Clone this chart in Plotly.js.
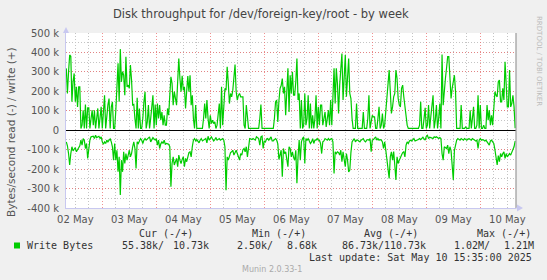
<!DOCTYPE html>
<html><head><meta charset="utf-8">
<script src="https://cdn.plot.ly/plotly-3.0.1.min.js"></script>
<style>html,body{margin:0;padding:0;background:#F0F0F0;} #chart{width:547px;height:280px;}</style>
</head><body><div id="chart"></div>
<script>
// ---- data ----
const startTime = '2025-05-02T08:00:00Z';
const stepMinutes = 30;
// write bytes/s (k), positive side
const writeK = [
318,189,300,387,380,146,250,292,146,223,
120,223,223,9,26,103,9,132,9,115,
115,9,60,103,26,103,9,60,112,9,
60,120,9,112,180,9,94,130,163,9,
120,146,9,9,100,215,344,146,417,249,
301,283,180,378,223,232,215,335,258,129,
132,60,9,167,9,112,9,9,60,146,
198,9,43,129,9,60,120,180,9,132,
26,137,60,129,52,94,26,77,26,26,
112,77,180,275,241,129,198,172,129,250,
369,266,198,280,206,223,112,200,279,198,
283,129,180,60,9,129,9,9,9,9,
9,9,60,137,60,155,60,9,77,34,
52,34,43,9,26,100,137,9,223,26,
150,215,206,326,241,137,189,172,206,260,
338,198,155,180,189,172,172,172,26,9,
129,60,9,9,9,9,9,9,9,9,
9,9,60,132,9,9,9,9,9,9,
9,9,9,9,9,60,146,155,43,150,
215,230,266,189,223,77,198,318,94,283,
189,301,180,180,250,369,155,189,9,155,
9,26,189,26,60,180,9,137,9,77,
9,60,180,9,120,26,129,129,26,60,
94,17,50,103,26,155,26,180,318,137,
318,241,86,232,320,395,155,318,387,172,
266,369,189,163,60,9,9,9,137,9,
9,9,9,9,94,9,9,9,60,180,
9,40,77,69,69,9,9,60,120,9,
26,86,9,26,100,172,232,309,198,86,
120,172,189,309,266,163,130,120,215,232,
172,129,60,26,9,9,9,9,9,9,
9,9,9,9,26,146,9,9,60,115,
9,26,129,9,69,120,180,9,52,129,
9,60,137,9,390,129,232,266,320,378,
378,283,163,215,250,283,198,9,9,9,
9,129,9,9,9,17,9,9,9,103,
9,60,120,9,9,26,180,9,129,9,
9,26,9,9,129,52,103,26,77,26,
100,198,180,172,249,258,146,146,215,155,
352,198,120,120,309,120,137,180,120,10.73
];
// read bytes/s (k), drawn on negative side
const readK = [
60,80,120,179,120,85,106,94,89,111,
99,94,80,51,77,43,51,94,68,145,
94,50,34,34,31,43,26,38,35,31,
43,34,60,72,60,68,51,60,51,45,
60,85,154,68,154,103,214,137,333,154,
214,111,171,120,154,120,103,137,120,85,
60,94,197,60,68,55,43,51,68,51,
43,51,45,43,34,60,43,38,45,51,
43,77,51,94,70,60,68,51,72,68,
70,72,85,291,171,137,179,160,145,188,
128,154,171,150,137,188,145,162,128,115,
111,137,85,51,43,55,48,55,65,51,
43,55,50,45,43,65,31,51,40,34,
45,55,48,38,51,45,43,51,48,43,
51,85,308,137,154,130,115,111,103,128,
110,103,120,137,154,120,128,100,94,111,
85,137,77,43,45,48,43,48,51,34,
40,43,77,34,30,94,55,60,45,43,
51,43,34,55,55,48,43,51,70,150,
120,103,239,94,120,111,150,188,85,94,
137,111,140,154,103,273,137,51,154,60,
43,34,171,43,51,43,55,68,60,43,
68,51,51,43,51,51,68,120,60,55,
43,48,51,43,51,45,43,60,222,111,
120,111,115,128,103,162,111,150,188,120,
154,214,205,115,60,51,43,60,51,51,
55,60,51,48,43,55,60,51,48,51,
43,110,51,48,43,34,51,43,51,48,
50,60,94,60,103,150,210,248,137,111,
154,110,180,256,137,171,154,137,128,115,
111,137,77,60,68,55,51,55,51,43,
55,51,50,48,43,48,43,36,45,51,
31,26,43,36,38,40,43,34,38,34,
40,43,38,43,120,154,85,90,94,77,
120,85,105,180,256,103,68,51,43,48,
51,43,48,51,43,48,51,45,43,48,
51,43,48,51,55,51,94,51,43,51,
48,50,55,51,58,70,77,55,51,60,
68,100,150,179,130,162,120,137,120,111,
145,120,137,125,120,128,111,106,85,55.38
];
const yTickVals = [-400000,-300000,-200000,-100000,0,100000,200000,300000,400000,500000];
const yTickText = ['-400 k','-300 k','-200 k','-100 k','0','100 k','200 k','300 k','400 k','500 k'];
const seriesName = 'Write Bytes';
const legendHeaders = ['Cur (-/+)','Min (-/+)','Avg (-/+)','Max (-/+)'];
const legendNeg = ['55.38k/','2.50k/','86.73k/','1.02M/'];
const legendPos = ['10.73k','8.68k','110.73k','1.21M'];
const titleText = 'Disk throughput for /dev/foreign-key/root - by week';
const yTitle = 'Bytes/second read (-) / write (+)';
const lastUpdate = 'Last update: Sat May 10 15:35:00 2025';
const footer = 'Munin 2.0.33-1';
const sideText = 'RRDTOOL / TOBI OETIKER';

// ---- build ----
const t0 = Date.parse(startTime);
const times = writeK.map((_, i) => new Date(t0 + i * stepMinutes * 60000).toISOString().slice(0, 16).replace('T', ' '));
const W = 547, H = 280, ML = 66, MR = 31, MT = 33, MB = 72;
const PW = W - ML - MR, PH = H - MT - MB;
const px = x => (x - ML) / PW;
const py = y => (H - MB - y) / PH;
const green = '#00CC00';
const mono = 'DejaVu Sans Mono, monospace';
const sans = 'DejaVu Sans, sans-serif';

const traces = [
  {x: times, y: writeK.map(v => v * 1000), type: 'scatter', mode: 'lines', line: {color: green, width: 1.2}, hoverinfo: 'skip'},
  {x: times, y: readK.map(v => -v * 1000), type: 'scatter', mode: 'lines', line: {color: green, width: 1.2}, hoverinfo: 'skip'}
];

const ann = [];
function txt(text, x, y, opts) {
  ann.push(Object.assign({text: text, x: px(x), y: py(y), xref: 'paper', yref: 'paper', showarrow: false,
    xanchor: 'left', yanchor: 'middle', borderpad: 0, font: {family: mono, size: 10, color: '#333'}}, opts || {}));
}
const hdrX = [138, 250.5, 363, 475.5];
const negX = [120.7, 235.7, 340.5, 453.3];
const posX = [171.7, 285.7, 382.7, 503.3];
legendHeaders.forEach((h, i) => txt(h, hdrX[i], 233.5));
legendNeg.forEach((h, i) => txt(h, negX[i], 245.7));
legendPos.forEach((h, i) => txt(h, posX[i], 245.7));
txt(seriesName, 26, 245.7);
txt(lastUpdate, 533, 257.5, {xanchor: 'right'});
txt(footer, 272, 269.5, {xanchor: 'center', font: {family: sans, size: 8, color: '#aaa'}});
txt(yTitle, 10.5, 132.5, {xanchor: 'center', textangle: -90, font: {family: sans, size: 10.5, color: '#555'}});
txt(sideText, 539, 61, {xanchor: 'center', textangle: 90, font: {family: sans, size: 7, color: '#bbb'}});
txt(titleText, 261, 13.5, {xanchor: 'center', font: {family: sans, size: 11.5, color: '#444'}});

function path(pts) { return 'M' + pts.map(p => px(p[0]) + ',' + py(p[1])).join(' L') + ' Z'; }
const shapes = [
  {type: 'rect', xref: 'paper', yref: 'paper', x0: px(14), x1: px(20), y0: py(248.5), y1: py(242.5), fillcolor: green, line: {width: 0}},
  {type: 'line', xref: 'paper', yref: 'paper', x0: 1, x1: 1, y0: 0, y1: 1, line: {color: '#999', width: 1.2}},
  {type: 'path', xref: 'paper', yref: 'paper', path: path([[63, 33], [69, 33], [66, 27]]), fillcolor: '#c8c8f0', line: {width: 0}},
  {type: 'path', xref: 'paper', yref: 'paper', path: path([[517, 204.5], [517, 211.5], [523, 208]]), fillcolor: '#c8c8f0', line: {width: 0}},
  {type: 'line', xref: 'paper', yref: 'paper', x0: 1, x1: px(518), y0: 0, y1: 0, line: {color: '#c8c8f0', width: 1}}
];

const redGrid = 'rgba(235,110,110,0.75)';
const grayGrid = '#c4c4c4';
const layout = {
  width: W, height: H,
  margin: {l: ML, r: MR, t: MT, b: MB, pad: 0},
  paper_bgcolor: '#F0F0F0', plot_bgcolor: '#FFFFFF',
  showlegend: false,
  xaxis: {
    type: 'date', range: ['2025-05-02 07:52', '2025-05-10 15:52'],
    tick0: '2025-05-02 00:00', dtick: 86400000, tickformat: '%d %b', ticklabelmode: 'period',
    showgrid: true, gridcolor: redGrid, griddash: '1px,2px', gridwidth: 1,
    minor: {dtick: 21600000, tick0: '2025-05-02 00:00', showgrid: true, gridcolor: grayGrid, griddash: '1px,2px', gridwidth: 1},
    showline: true, linecolor: '#c8c8f0', linewidth: 1,
    ticks: 'outside', ticklen: 2, tickcolor: 'rgba(0,0,0,0)',
    tickfont: {family: sans, size: 10, color: '#555'}, zeroline: false, fixedrange: true
  },
  yaxis: {
    range: [-400000, 500000], tickmode: 'array', tickvals: yTickVals, ticktext: yTickText,
    showgrid: true, gridcolor: redGrid, griddash: '1px,2px', gridwidth: 1,
    minor: {tickmode: 'linear', tick0: 0, dtick: 50000, showgrid: true, gridcolor: grayGrid, griddash: '1px,2px', gridwidth: 1},
    zeroline: true, zerolinecolor: '#000', zerolinewidth: 1.2,
    showline: true, linecolor: '#c8c8f0', linewidth: 1,
    ticks: 'outside', ticklen: 4, tickcolor: 'rgba(0,0,0,0)',
    tickfont: {family: sans, size: 10, color: '#555'}, fixedrange: true
  },
  annotations: ann,
  shapes: shapes
};
Plotly.newPlot('chart', traces, layout, {displayModeBar: false, staticPlot: true});
</script></body></html>
